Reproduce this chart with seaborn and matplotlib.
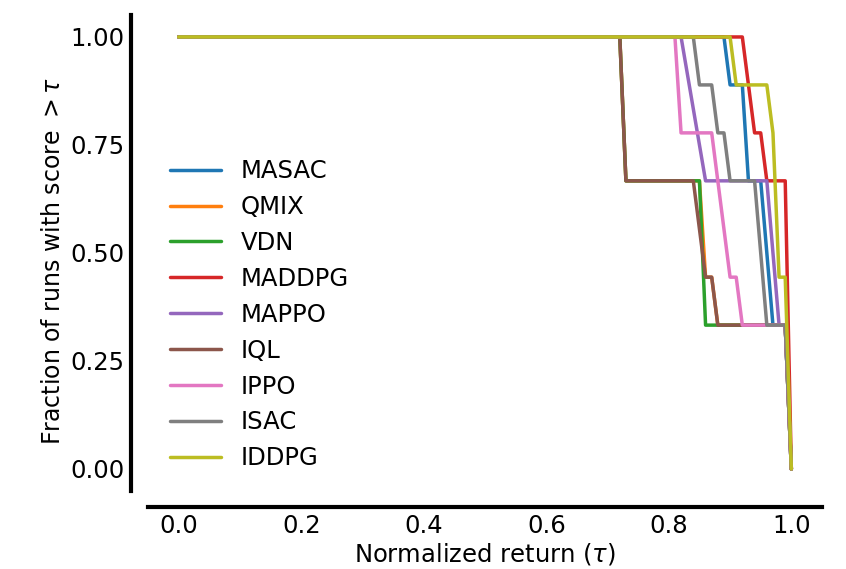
import matplotlib
matplotlib.use("Agg")
import matplotlib.pyplot as plt
import seaborn as sns
import pandas as pd
from matplotlib.ticker import FormatStrFormatter

# Performance profile breakpoints (tau, fraction of runs > tau)
algorithms = ["MASAC", "QMIX", "VDN", "MADDPG", "MAPPO", "IQL", "IPPO", "ISAC", "IDDPG"]

masac_tau = [0.0, 0.89, 0.90, 0.92, 0.93, 0.95, 0.97, 0.99, 1.0]
masac_frac = [1.0, 1.0, 0.889, 0.889, 0.667, 0.667, 0.333, 0.333, 0.0]

qmix_tau = [0.0, 0.72, 0.73, 0.85, 0.86, 0.87, 0.88, 0.99, 1.0]
qmix_frac = [1.0, 1.0, 0.667, 0.667, 0.444, 0.444, 0.333, 0.333, 0.0]

vdn_tau = [0.0, 0.72, 0.73, 0.85, 0.86, 0.99, 1.0]
vdn_frac = [1.0, 1.0, 0.667, 0.667, 0.333, 0.333, 0.0]

maddpg_tau = [0.0, 0.92, 0.94, 0.95, 0.96, 0.99, 1.0]
maddpg_frac = [1.0, 1.0, 0.778, 0.778, 0.667, 0.667, 0.0]

mappo_tau = [0.0, 0.82, 0.86, 0.96, 0.98, 0.99, 1.0]
mappo_frac = [1.0, 1.0, 0.667, 0.667, 0.333, 0.333, 0.0]

iql_tau = [0.0, 0.72, 0.73, 0.84, 0.86, 0.87, 0.88, 0.99, 1.0]
iql_frac = [1.0, 1.0, 0.667, 0.667, 0.444, 0.444, 0.333, 0.333, 0.0]

ippo_tau = [0.0, 0.81, 0.82, 0.87, 0.90, 0.91, 0.92, 0.99, 1.0]
ippo_frac = [1.0, 1.0, 0.778, 0.778, 0.444, 0.444, 0.333, 0.333, 0.0]

isac_tau = [0.0, 0.84, 0.85, 0.87, 0.88, 0.89, 0.90, 0.94, 0.96, 0.99, 1.0]
isac_frac = [1.0, 1.0, 0.889, 0.889, 0.778, 0.778, 0.667, 0.667, 0.333, 0.333, 0.0]

iddpg_tau = [0.0, 0.90, 0.91, 0.96, 0.97, 0.98, 0.99, 1.0]
iddpg_frac = [1.0, 1.0, 0.889, 0.889, 0.778, 0.444, 0.444, 0.0]

x_ticks = [0.0, 0.2, 0.4, 0.6, 0.8, 1.0]
y_ticks = [0.0, 0.25, 0.50, 0.75, 1.0]

curves = {
    "MASAC": (masac_tau, masac_frac),
    "QMIX": (qmix_tau, qmix_frac),
    "VDN": (vdn_tau, vdn_frac),
    "MADDPG": (maddpg_tau, maddpg_frac),
    "MAPPO": (mappo_tau, mappo_frac),
    "IQL": (iql_tau, iql_frac),
    "IPPO": (ippo_tau, ippo_frac),
    "ISAC": (isac_tau, isac_frac),
    "IDDPG": (iddpg_tau, iddpg_frac),
}

rows = []
for name in algorithms:
    taus, fracs = curves[name]
    for t, f in zip(taus, fracs):
        rows.append({"tau": t, "frac": f, "algorithm": name})
df = pd.DataFrame(rows)

sns.set_style("white")
plt.rcParams["font.family"] = ["DejaVu Sans"]
plt.rcParams["text.color"] = "black"
plt.rcParams["axes.labelcolor"] = "black"
plt.rcParams["xtick.color"] = "black"
plt.rcParams["ytick.color"] = "black"

fs = 17.5

fig = plt.figure(figsize=(8.46, 5.69), dpi=100)
ax = fig.add_axes([0.175, 0.1378, 0.7966, 0.8352])

sns.lineplot(data=df, x="tau", y="frac", hue="algorithm", hue_order=algorithms,
             palette="tab10", estimator=None, sort=False, linewidth=2.5, ax=ax)

ax.set_xticks(x_ticks)
ax.set_yticks(y_ticks)
ax.xaxis.set_major_formatter(FormatStrFormatter("%.1f"))
ax.yaxis.set_major_formatter(FormatStrFormatter("%.2f"))
ax.tick_params(length=0, labelsize=fs, pad=5)

ax.set_xlabel(r"Normalized return ($\tau$)", fontsize=fs, labelpad=2)
ax.set_ylabel(r"Fraction of runs with score $> \tau$", fontsize=17, labelpad=4, y=0.483)

for side in ["top", "right"]:
    ax.spines[side].set_visible(False)
for side in ["left", "bottom"]:
    ax.spines[side].set_linewidth(3)
    ax.spines[side].set_color("black")
    ax.spines[side].set_position(("outward", 12))

handles, labels = ax.get_legend_handles_labels()
ax.legend(handles, labels, loc="center left", bbox_to_anchor=(0.018, 0.37),
          borderaxespad=0, frameon=False, fontsize=fs, labelspacing=0.49,
          handlelength=2.1)

fig.savefig("out.png", dpi=100)
